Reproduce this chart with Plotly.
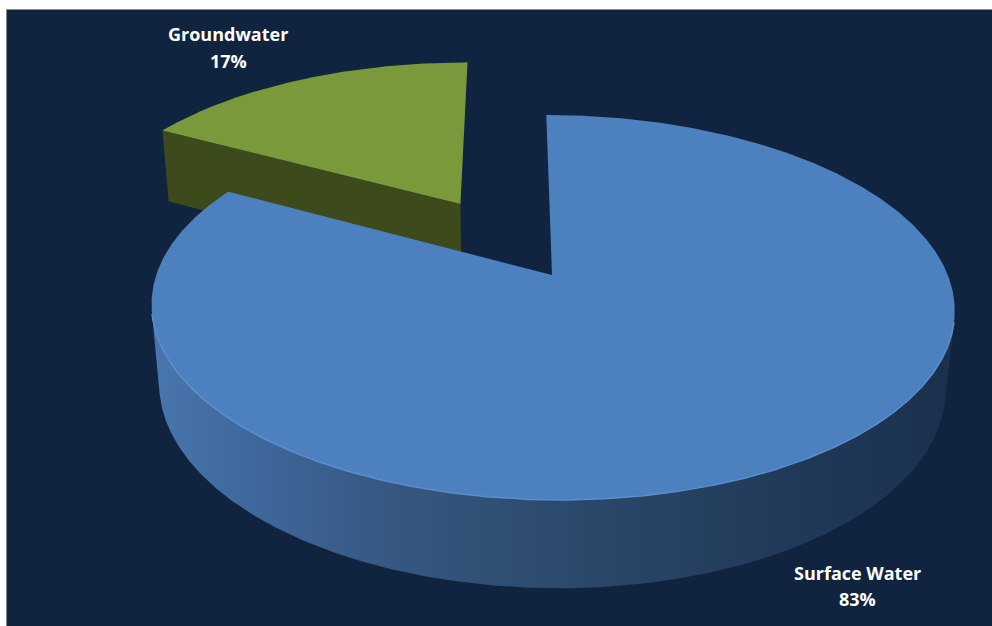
import numpy as np
import plotly.graph_objects as go

# ---- data ----
labels = ["Surface Water", "Groundwater"]
values = [83, 17]

# ---- style ----
top_colors = ["#4d80bf", "#7a993a"]
face_colors = ["#1f3756", "#3d4a1b"]
explode = [0.0, 0.472]
bg_color = "#10243f"

W, H = 992, 626
# 3D projection parameters (screen pixels)
f = 2070.0
D = 5.23
theta = np.radians(28.2)
cth, sth = np.cos(theta), np.sin(theta)
xc_cam = -0.10
X0, Y0 = 552.0, 275.0
h = 0.229
cam = np.array([xc_cam, D * sth, -D * cth])


def proj(x, y, z):
    x = np.asarray(x, float)
    y = np.asarray(y, float)
    z = np.asarray(z, float)
    yp = y * cth + z * sth
    zp = -y * sth + z * cth
    sx = X0 + f * ((x - xc_cam) / (D + zp) + xc_cam / D)
    sy = Y0 - f * yp / (D + zp)
    return sx, sy


fig = go.Figure()

total = float(sum(values))
slices = []
a = 90.0
for i, v in enumerate(values):
    span = v / total * 360.0
    a0, a1 = a, a - span
    mid = np.radians((a0 + a1) / 2)
    ox, oz = explode[i] * np.cos(mid), explode[i] * np.sin(mid)
    slices.append(dict(i=i, a0=a0, a1=a1, ox=ox, oz=oz, depth=oz + 0.5 * np.sin(mid)))
    a = a1

# far slices first
slices.sort(key=lambda s: -s["depth"])


def add_poly(xs, ys, color, **kw):
    fig.add_trace(go.Scatter(x=np.append(xs, xs[0]), y=np.append(ys, ys[0]), mode="lines",
                             fill="toself", fillcolor=color, line=dict(width=0, color=color),
                             hoverinfo="skip", showlegend=False, **kw))


side_scale = [[0.0, "#4876ae"], [0.15, "#3d6598"], [0.31, "#35577f"], [0.51, "#2c4a6d"],
              [0.69, "#253f5f"], [0.85, "#1f3756"], [1.0, "#1a304d"]]

for s in slices:
    i, a0, a1, ox, oz = s["i"], s["a0"], s["a1"], s["ox"], s["oz"]
    # radial cut faces
    for ang, sign in ((a0, 1), (a1, -1)):
        r = np.radians(ang)
        n = np.array([-np.sin(r), 0, np.cos(r)]) * sign
        P = np.array([ox + 0.5 * np.cos(r), -h / 2, oz + 0.5 * np.sin(r)])
        d = P - cam
        if np.dot(n, d) / np.linalg.norm(d) < -0.1:
            xs3 = [ox, ox + np.cos(r), ox + np.cos(r), ox]
            ys3 = [0, 0, -h, -h]
            zs3 = [oz, oz + np.sin(r), oz + np.sin(r), oz]
            sx, sy = proj(xs3, ys3, zs3)
            add_poly(sx, sy, face_colors[i])
    # outer curved side
    phis = np.radians(np.linspace(a0, a1, 800))
    vis = np.cos(phis) * (ox + np.cos(phis) - cam[0]) + np.sin(phis) * (oz + np.sin(phis) - cam[2]) < 0
    if vis.any():
        pv = phis[vis]
        tx, ty = proj(ox + np.cos(pv), np.zeros_like(pv), oz + np.sin(pv))
        bx, by = proj(ox + np.cos(pv), -h * np.ones_like(pv), oz + np.sin(pv))
        xs = np.concatenate([tx, bx[::-1]])
        ys = np.concatenate([ty, by[::-1]])
        if i == 0:
            fig.add_trace(go.Scatter(x=np.append(xs, xs[0]), y=np.append(ys, ys[0]), mode="lines",
                                     fill="toself",
                                     fillgradient=dict(type="horizontal", colorscale=side_scale),
                                     line=dict(width=0, color="#2c4a6d"),
                                     hoverinfo="skip", showlegend=False))
        else:
            add_poly(xs, ys, face_colors[i])
    # top face
    tx, ty = proj(ox + np.cos(phis), np.zeros_like(phis), oz + np.sin(phis))
    ax, ay = proj([ox], [0], [oz])
    add_poly(np.concatenate([ax, tx]), np.concatenate([ay, ty]), top_colors[i])
    # rim highlight on visible front arc
    if vis.any() and i == 0:
        pv = phis[vis]
        rx, ry = proj(ox + np.cos(pv), np.zeros_like(pv), oz + np.sin(pv))
        fig.add_trace(go.Scatter(x=rx, y=ry, mode="lines", line=dict(width=1.5, color="#5a8ecf"),
                                 hoverinfo="skip", showlegend=False))

# labels
pcts = [round(v / total * 100) for v in values]
label_pos = {"Groundwater": (228, 34, 61), "Surface Water": (857, 573, 599)}
for name, p in zip(labels, pcts):
    x, y1, y2 = label_pos[name]
    for txt, yy in ((name, y1), (f"{p}%", y2)):
        fig.add_annotation(x=x, y=yy, xref="x", yref="y", text=f"<b>{txt}</b>", showarrow=False,
                           font=dict(family="Open Sans", size=18, color="white"),
                           xanchor="center", yanchor="middle")

fig.update_layout(
    width=W, height=H, margin=dict(l=0, r=0, t=0, b=0),
    paper_bgcolor="white", plot_bgcolor="rgba(0,0,0,0)",
    xaxis=dict(range=[0, W], visible=False, fixedrange=True),
    yaxis=dict(range=[H, 0], visible=False, fixedrange=True),
    shapes=[dict(type="rect", xref="paper", yref="paper", x0=6.5 / W, x1=1.01, y0=-0.01, y1=1 - 9.5 / H,
                 fillcolor=bg_color, line=dict(color="#8a8a8a", width=1), layer="below")],
)

fig.write_html("out.html")
